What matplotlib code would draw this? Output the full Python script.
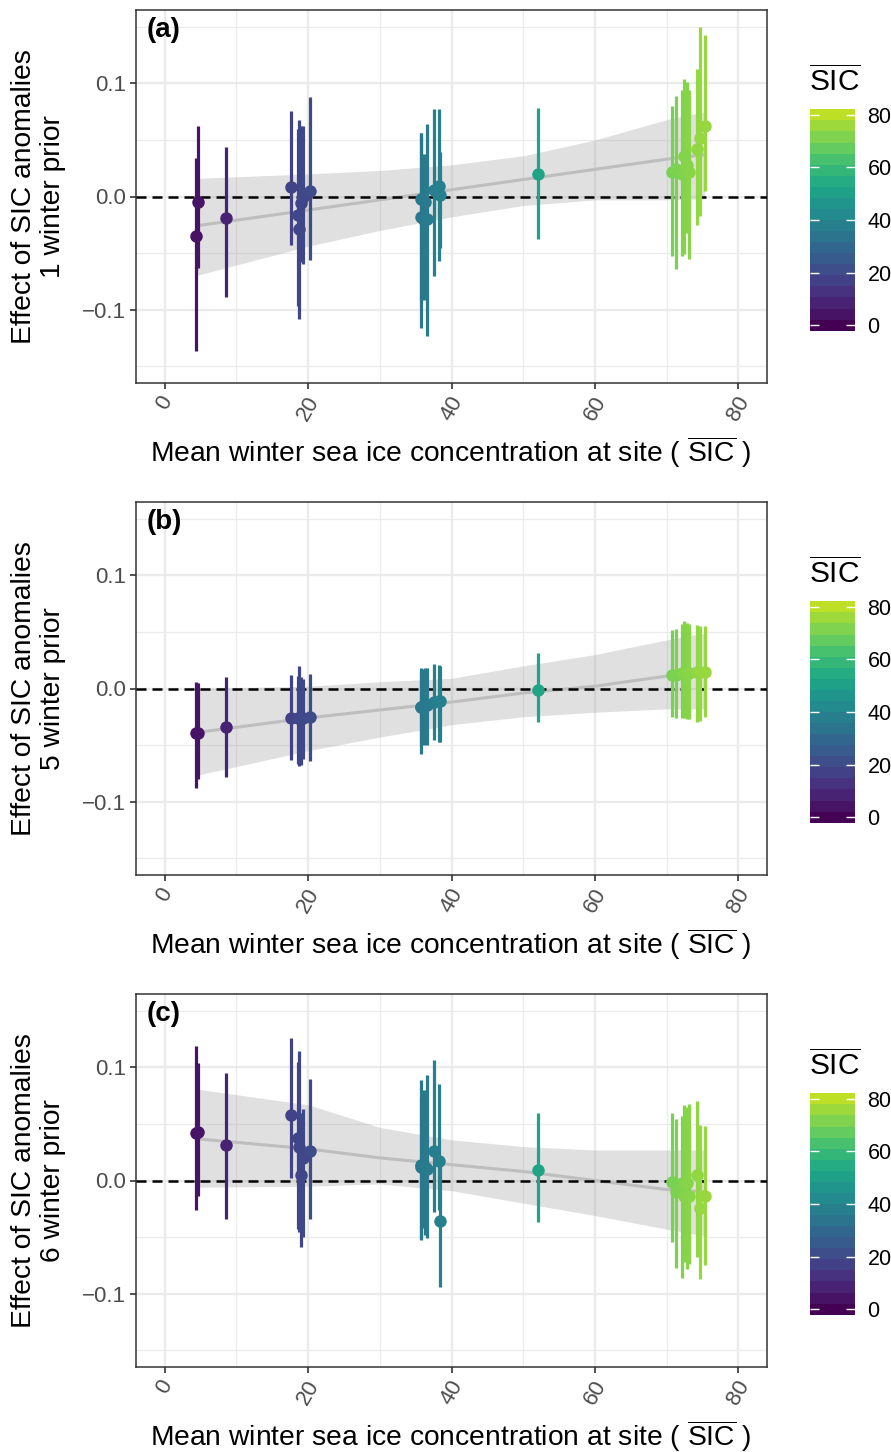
import numpy as np
import matplotlib
matplotlib.use('Agg')
import matplotlib.pyplot as plt
from matplotlib.colors import ListedColormap, Normalize
from matplotlib.colorbar import ColorbarBase

plt.rcParams['font.family'] = ['Liberation Sans', 'DejaVu Sans']
plt.rcParams['mathtext.fontset'] = 'custom'
plt.rcParams['mathtext.rm'] = 'Liberation Sans'

#%% site mean winter SIC (x) and effect estimates with intervals per lag
sic = [4.35, 4.6, 8.5, 17.6, 18.6, 18.8, 19.0, 19.3, 20.2,
       35.7, 35.8, 36.1, 36.3, 36.6, 37.6, 38.2, 38.4, 52.0,
       70.7, 71.3, 72.2, 72.4, 72.8, 73.1, 74.3, 74.7, 75.3]

est_a = [-0.035, -0.005, -0.019, 0.008, -0.016, -0.029, -0.006, 0.000, 0.005,
         -0.018, -0.002, -0.021, -0.005, -0.020, 0.006, 0.009, 0.001, 0.020,
         0.022, 0.024, 0.020, 0.036, 0.028, 0.022, 0.042, 0.052, 0.062]
lo_a = [-0.137, -0.063, -0.089, -0.043, -0.097, -0.108, -0.058, -0.060, -0.056,
        -0.116, -0.092, -0.092, -0.082, -0.123, -0.070, -0.057, -0.046, -0.038,
        -0.053, -0.064, -0.053, -0.051, -0.032, -0.055, -0.025, -0.017, 0.005]
hi_a = [0.034, 0.062, 0.044, 0.076, 0.060, 0.068, 0.062, 0.062, 0.088,
        0.056, 0.056, 0.038, 0.031, 0.064, 0.077, 0.077, 0.039, 0.078,
        0.080, 0.089, 0.094, 0.104, 0.101, 0.094, 0.113, 0.150, 0.143]

est_b = [-0.039, -0.039, -0.034, -0.026, -0.026, -0.026, -0.026, -0.026, -0.025,
         -0.016, -0.016, -0.015, -0.015, -0.015, -0.012, -0.011, -0.011, -0.001,
         0.012, 0.012, 0.014, 0.014, 0.014, 0.014, 0.015, 0.015, 0.015]
lo_b = [-0.088, -0.080, -0.078, -0.063, -0.067, -0.069, -0.068, -0.062, -0.064,
        -0.058, -0.050, -0.050, -0.049, -0.050, -0.046, -0.047, -0.047, -0.030,
        -0.025, -0.026, -0.026, -0.026, -0.027, -0.027, -0.030, -0.029, -0.025]
hi_b = [0.006, 0.005, 0.010, 0.012, 0.011, 0.020, 0.010, 0.008, 0.013,
        0.015, 0.018, 0.017, 0.018, 0.018, 0.022, 0.021, 0.020, 0.031,
        0.052, 0.053, 0.057, 0.060, 0.058, 0.057, 0.056, 0.055, 0.055]

est_c = [0.042, 0.043, 0.031, 0.058, 0.038, 0.030, 0.005, 0.020, 0.026,
         0.012, 0.014, 0.010, 0.012, 0.010, 0.026, 0.017, -0.036, 0.009,
         -0.001, -0.010, -0.002, -0.014, -0.002, -0.014, 0.005, -0.024, -0.014]
lo_c = [-0.026, -0.014, -0.034, 0.002, -0.043, -0.046, -0.059, -0.050, -0.034,
        -0.053, -0.051, -0.042, -0.048, -0.051, -0.028, -0.026, -0.094, -0.037,
        -0.054, -0.077, -0.086, -0.072, -0.078, -0.074, -0.068, -0.087, -0.075]
hi_c = [0.119, 0.104, 0.095, 0.126, 0.105, 0.115, 0.060, 0.063, 0.090,
        0.074, 0.089, 0.080, 0.076, 0.093, 0.107, 0.085, 0.020, 0.060,
        0.060, 0.054, 0.057, 0.067, 0.065, 0.068, 0.070, 0.049, 0.048]

#%% fitted trend and its ribbon
fit_x = [4.35, 20, 30, 40, 50, 60, 70, 75.3]
fit_a = [-0.026, -0.012, -0.003, 0.006, 0.015, 0.024, 0.033, 0.037]
fit_lo_a = [-0.070, -0.044, -0.030, -0.018, -0.008, -0.003, -0.003, -0.002]
fit_hi_a = [0.016, 0.020, 0.023, 0.028, 0.036, 0.050, 0.068, 0.075]
fit_b = [-0.039, -0.026, -0.019, -0.012, -0.004, 0.002, 0.011, 0.014]
fit_lo_b = [-0.077, -0.055, -0.043, -0.032, -0.025, -0.021, -0.018, -0.018]
fit_hi_b = [0.000, 0.002, 0.006, 0.009, 0.020, 0.030, 0.043, 0.049]
fit_c = [0.037, 0.028, 0.020, 0.014, 0.008, 0.000, -0.008, -0.010]
fit_lo_c = [-0.006, -0.005, -0.003, -0.009, -0.020, -0.031, -0.043, -0.049]
fit_hi_c = [0.081, 0.067, 0.047, 0.036, 0.030, 0.027, 0.027, 0.027]

tags = ['(a)', '(b)', '(c)']
lags = ['1', '5', '6']
cb_ticks = [0, 20, 40, 60, 80]

#%%
W, H = 891, 1452
fig = plt.figure(figsize=(W/100, H/100), dpi=100)

def frac(l, t, r, b):
    return [l/W, 1-b/H, (r-l)/W, (b-t)/H]

vir = plt.get_cmap('viridis')
def sic_col(v):
    return vir(0.9*v/80)

panels = [(est_a, lo_a, hi_a, fit_a, fit_lo_a, fit_hi_a),
          (est_b, lo_b, hi_b, fit_b, fit_lo_b, fit_hi_b),
          (est_c, lo_c, hi_c, fit_c, fit_lo_c, fit_hi_c)]

xlab = r'Mean winter sea ice concentration at site ( $\overline{\mathrm{SIC}}$ )'

for k in range(3):
    est, lo, hi, fm, flo, fhi = panels[k]
    off = k*492
    ax = fig.add_axes(frac(136, 10+off, 767, 383+off))
    ax.set_xlim(-4, 84)
    ax.set_ylim(-0.165, 0.165)
    ax.set_xticks(cb_ticks)
    ax.set_xticks([10, 30, 50, 70], minor=True)
    ax.set_yticks([-0.1, 0, 0.1])
    ax.set_yticks([-0.15, -0.05, 0.05, 0.15], minor=True)
    ax.set_yticklabels(['\u22120.1', '0.0', '0.1'])
    ax.set_xticklabels([str(t) for t in cb_ticks], rotation=60, ha='center', va='top')
    ax.grid(which='major', color='#ebebeb', lw=1.7)
    ax.grid(which='minor', color='#ebebeb', lw=0.9)
    ax.set_axisbelow(True)
    ax.tick_params(which='minor', length=0)
    ax.tick_params(which='major', length=4, width=1.2, color='#333333',
                   labelsize=16, labelcolor='#4d4d4d', pad=3)
    for s in ax.spines.values():
        s.set_color('#333333')
        s.set_linewidth(1.1)

    ax.fill_between(fit_x, flo, fhi, color='#999999', alpha=0.3, lw=0, zorder=1)
    ax.plot(fit_x, fm, color='#bebebe', lw=2.2, zorder=2, solid_capstyle='butt')
    ax.axhline(0, color='black', ls=(0, (4, 2.4)), lw=1.8, zorder=3)
    for i in range(len(sic)):
        c = sic_col(sic[i])
        ax.vlines(sic[i], lo[i], hi[i], color=c, lw=2.3, zorder=4)
        ax.plot(sic[i], est[i], 'o', color=c, ms=9, mec='none', zorder=5)

    ax.text(0.017, 0.982, tags[k], transform=ax.transAxes, fontsize=20,
            fontweight='bold', ha='left', va='top')

    fig.text(39/W, 1-(196.5+off)/H, 'Effect of SIC anomalies\n'+lags[k]+' winter prior',
             rotation=90, ha='center', va='center', fontsize=20.3, linespacing=1.15)
    fig.text(451/W, 1-(452+off)/H, xlab, ha='center', va='center', fontsize=20.3)

    # binned colour bar like ggplot's
    cax = fig.add_axes(frac(809.5, 109.3+off, 855, 330.7+off))
    w = 80/19
    cmap20 = ListedColormap([sic_col(v) for v in np.linspace(0, 80, 20)])
    cb = ColorbarBase(cax, cmap=cmap20, norm=Normalize(-w/2, 80+w/2), ticks=cb_ticks)
    cb.outline.set_visible(False)
    cax.tick_params(direction='in', color='white', length=6.5, width=1,
                    left=True, right=True, labelsize=15.5, labelcolor='black', pad=9)
    fig.text(809/W, 1-(91.7+off)/H, r'$\overline{\mathrm{SIC}}$', fontsize=21.5,
             ha='left', va='baseline')

fig.savefig('out.png', dpi=100)
